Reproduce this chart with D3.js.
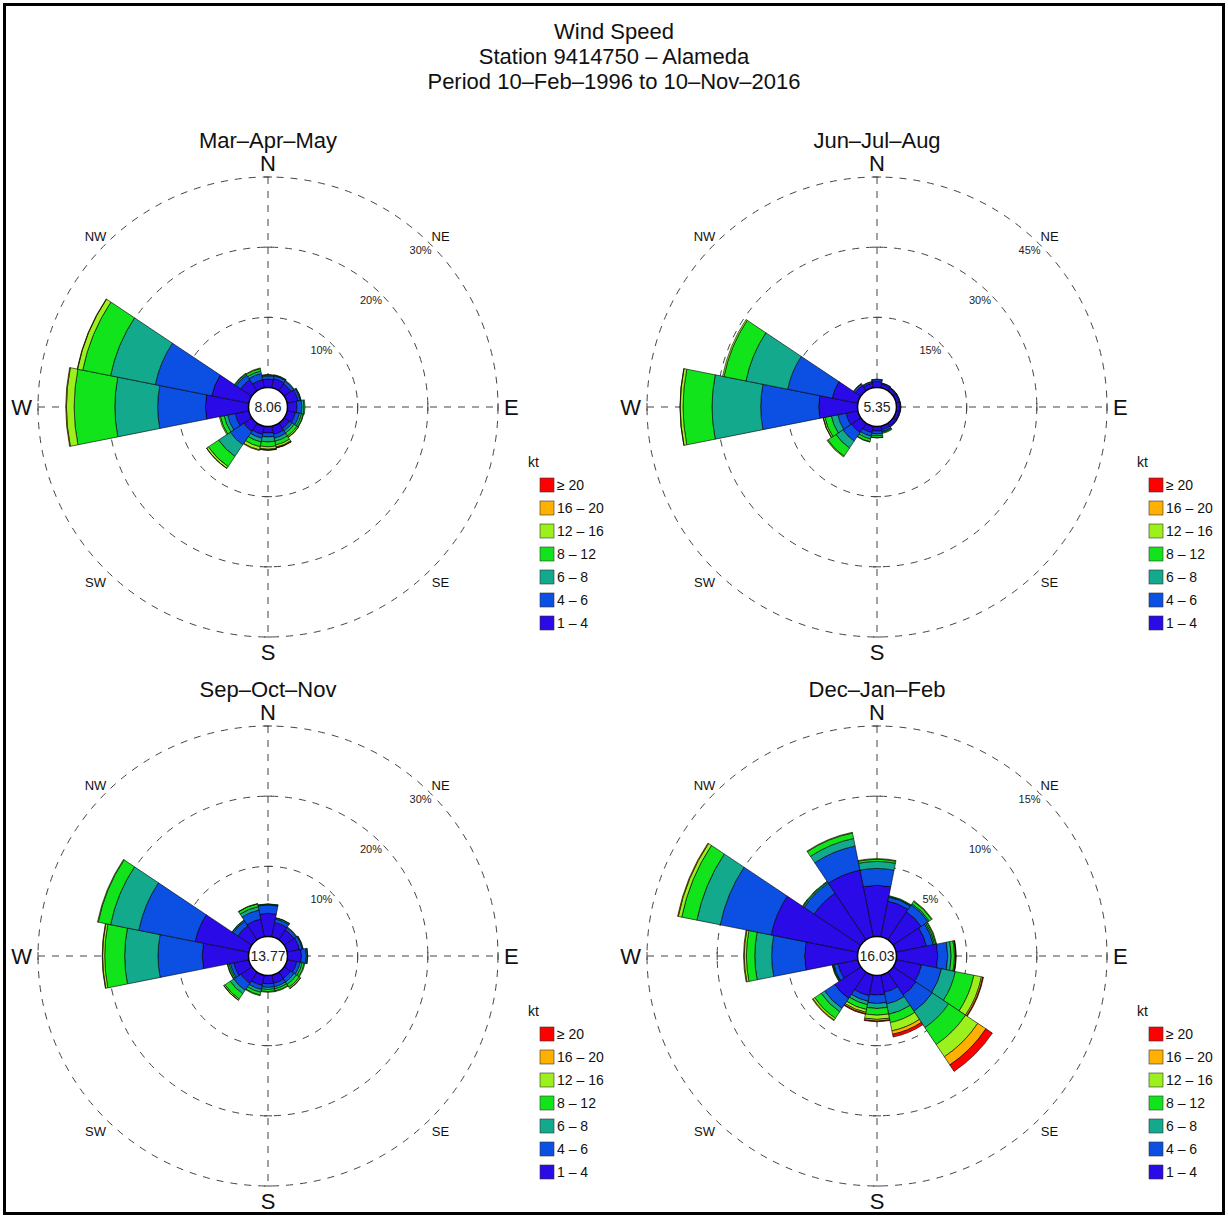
<!DOCTYPE html>
<html>
<head>
<meta charset="utf-8">
<script src="https://cdn.jsdelivr.net/npm/d3@7"></script>
<style>
  body { margin: 0; background: #fff; }
  svg { display: block; font-family: "Liberation Sans", Arial, Helvetica, sans-serif; }
</style>
</head>
<body>
<svg></svg>
<script>
const titleLines = ["Wind Speed", "Station 9414750 – Alameda", "Period 10–Feb–1996 to 10–Nov–2016"];
const directions = ["N", "NNE", "NE", "ENE", "E", "ESE", "SE", "SSE", "S", "SSW", "SW", "WSW", "W", "WNW", "NW", "NNW"];
const speedBins = ["1 – 4", "4 – 6", "6 – 8", "8 – 12", "12 – 16", "16 – 20", "≥ 20"];
const seasons = ["Mar–Apr–May", "Jun–Jul–Aug", "Sep–Oct–Nov", "Dec–Jan–Feb"];
const calms = [8.06, 5.35, 13.77, 16.03];
const ringTicks = [[10, 20, 30], [15, 30, 45], [10, 20, 30], [5, 10, 15]];
const diagLabels = ["NE", "SE", "SW", "NW"];

// rows = directions (N clockwise), columns = speed bins (1-4 ... >=20)
const freqMAM = [
  [1.2, 0.45, 0.15, 0.05, 0, 0, 0],
  [1.35, 0.4, 0.1, 0.05, 0, 0, 0],
  [1.2, 0.45, 0.1, 0, 0, 0, 0],
  [1.6, 0.3, 0.1, 0.05, 0, 0, 0],
  [1.35, 0.7, 0.3, 0.15, 0, 0, 0],
  [1.2, 0.6, 0.3, 0.25, 0.05, 0, 0],
  [0.9, 0.45, 0.35, 0.5, 0.2, 0.05, 0],
  [1.2, 0.55, 0.45, 0.55, 0.3, 0.1, 0.05],
  [0.95, 0.55, 0.7, 0.7, 0.35, 0.1, 0.05],
  [1.2, 0.55, 0.55, 0.7, 0.45, 0.1, 0],
  [1.4, 2.3, 2.0, 1.75, 0.3, 0.02, 0],
  [2.0, 1.1, 0.5, 0.55, 0.15, 0, 0],
  [6.15, 6.8, 6.1, 5.8, 1.1, 0.1, 0],
  [5.4, 8.2, 6.5, 4.05, 0.75, 0.05, 0],
  [1.9, 0.8, 0.2, 0.1, 0, 0, 0],
  [1.2, 0.9, 0.35, 0.35, 0.1, 0, 0]
];
const freqJJA = [
  [1.3, 0.4, 0.1, 0, 0, 0, 0],
  [0.8, 0.2, 0.05, 0, 0, 0, 0],
  [0.7, 0.15, 0.05, 0, 0, 0, 0],
  [0.7, 0.15, 0.05, 0, 0, 0, 0],
  [0.75, 0.15, 0.05, 0, 0, 0, 0],
  [0.7, 0.15, 0.05, 0, 0, 0, 0],
  [0.7, 0.2, 0.05, 0, 0, 0, 0],
  [0.8, 0.4, 0.2, 0.2, 0, 0, 0],
  [1.0, 0.6, 0.4, 0.4, 0.05, 0, 0],
  [1.4, 0.8, 0.6, 0.6, 0.1, 0, 0],
  [2.4, 2.2, 1.8, 2.1, 0.2, 0, 0],
  [2.6, 1.8, 1.4, 1.4, 0.35, 0.05, 0],
  [8.3, 12.4, 10.4, 6.2, 0.6, 0.05, 0],
  [5.6, 9.7, 9.1, 4.8, 0.3, 0, 0],
  [1.4, 0.4, 0.1, 0, 0, 0, 0],
  [1.0, 0.3, 0.1, 0, 0, 0, 0]
];
const freqSON = [
  [3.3, 1.2, 0.1, 0.05, 0, 0, 0],
  [2.1, 0.5, 0.15, 0.05, 0, 0, 0],
  [1.7, 0.4, 0.1, 0, 0, 0, 0],
  [1.8, 0.4, 0.1, 0.05, 0, 0, 0],
  [2.0, 0.7, 0.15, 0.05, 0, 0, 0],
  [1.4, 0.5, 0.3, 0.3, 0.1, 0, 0],
  [1.1, 0.6, 0.4, 0.5, 0.2, 0.05, 0],
  [1.2, 0.5, 0.3, 0.3, 0.1, 0, 0],
  [1.2, 0.5, 0.3, 0.3, 0.1, 0, 0],
  [1.5, 0.6, 0.4, 0.4, 0.1, 0, 0],
  [1.9, 1.2, 0.6, 0.9, 0.2, 0.02, 0],
  [2.2, 0.5, 0.2, 0.2, 0.05, 0, 0],
  [6.6, 6.3, 4.75, 2.85, 0.3, 0.05, 0],
  [7.8, 8.2, 4.1, 1.8, 0.1, 0, 0],
  [2.4, 0.8, 0.15, 0.05, 0, 0, 0],
  [2.6, 1.3, 0.5, 0.4, 0.05, 0, 0]
];
const freqDJF = [
  [3.65, 1.2, 0.5, 0.15, 0.05, 0, 0],
  [2.6, 0.3, 0.05, 0.05, 0, 0, 0],
  [2.4, 0.6, 0.1, 0.2, 0.05, 0, 0],
  [2.2, 0.5, 0.1, 0.1, 0.05, 0, 0],
  [2.94, 0.71, 0.25, 0.23, 0.07, 0.03, 0.02],
  [1.85, 1.45, 1.0, 1.35, 0.55, 0.1, 0.05],
  [1.95, 1.4, 1.4, 1.45, 1.05, 0.7, 0.55],
  [1.25, 0.85, 0.75, 0.6, 0.6, 0.25, 0.2],
  [1.4, 0.6, 0.35, 0.48, 0.3, 0.12, 0.05],
  [1.5, 0.4, 0.25, 0.35, 0.2, 0.1, 0.05],
  [2.25, 0.85, 0.3, 0.55, 0.15, 0.05, 0],
  [1.45, 0.3, 0.05, 0.05, 0.03, 0, 0],
  [3.77, 2.35, 1.2, 0.6, 0.15, 0.05, 0],
  [6.3, 3.7, 1.7, 1.1, 0.25, 0.05, 0],
  [4.0, 0.85, 0.1, 0.05, 0, 0, 0],
  [4.85, 1.75, 0.55, 0.4, 0.05, 0, 0]
];
const seasonFreqs = [freqMAM, freqJJA, freqSON, freqDJF];

// ---- styling / layout ----
const binColors = ["#2a0ae6", "#0b50e2", "#13a98c", "#12e41c", "#9cf01c", "#ffb000", "#ff0000"];
const width = 1228, height = 1218;
const centers = [[268, 407], [877, 407], [268, 956], [877, 956]];
const rCalm = 19.5, rOuter = 230;

const svg = d3.select("svg").attr("width", width).attr("height", height);

svg.append("rect")
  .attr("x", 4.5).attr("y", 4.5)
  .attr("width", width - 9).attr("height", height - 9)
  .attr("fill", "#fff").attr("stroke", "#000").attr("stroke-width", 3);

svg.append("g").selectAll("text")
  .data(titleLines)
  .join("text")
  .attr("x", width / 2)
  .attr("y", (d, i) => 39 + i * 25)
  .attr("text-anchor", "middle")
  .attr("font-size", 22)
  .attr("fill", "#111")
  .text(d => d);

seasons.forEach((s, i) => drawRose(i));

function drawRose(i) {
  const [cx, cy] = centers[i];
  const freq = seasonFreqs[i];
  const ticks = ringTicks[i];
  const g = svg.append("g").attr("transform", `translate(${cx},${cy})`);

  const r = d3.scaleLinear().domain([0, d3.max(ticks)]).range([rCalm, rOuter]);
  const ang = d3.scaleLinear().domain([0, directions.length]).range([0, 2 * Math.PI]);
  const half = Math.PI / directions.length;

  // subplot title
  g.append("text")
    .attr("x", 0).attr("y", -259)
    .attr("text-anchor", "middle")
    .attr("font-size", 22).attr("fill", "#111")
    .text(seasons[i]);

  // dashed rings
  g.selectAll("circle.ring")
    .data(ticks)
    .join("circle")
    .attr("class", "ring")
    .attr("r", d => r(d))
    .attr("fill", "none")
    .attr("stroke", "#444")
    .attr("stroke-width", 1)
    .attr("stroke-dasharray", "7,7");

  // dashed axes
  const axes = g.append("g").attr("stroke", "#444").attr("stroke-width", 1);
  axes.append("line").attr("x1", -rOuter).attr("x2", rOuter).attr("y1", 0).attr("y2", 0)
    .attr("stroke-dasharray", "7,7");
  axes.append("line").attr("y1", -rOuter).attr("y2", rOuter).attr("x1", 0).attr("x2", 0)
    .attr("stroke-dasharray", "7,7");
  // small ticks where rings meet the axes
  ticks.forEach(t => {
    const rr = r(t);
    [[rr, 0, "v"], [-rr, 0, "v"], [0, rr, "h"], [0, -rr, "h"]].forEach(([x, y, o]) => {
      axes.append("line")
        .attr("x1", o === "v" ? x : x - 4).attr("x2", o === "v" ? x : x + 4)
        .attr("y1", o === "v" ? y - 4 : y).attr("y2", o === "v" ? y + 4 : y);
    });
  });

  // percent labels along NE
  g.selectAll("text.pct")
    .data(ticks)
    .join("text")
    .attr("class", "pct")
    .attr("x", d => r(d) * Math.SQRT1_2 - 10)
    .attr("y", d => -r(d) * Math.SQRT1_2 + 10)
    .attr("text-anchor", "middle")
    .attr("font-size", 11)
    .attr("fill", "#222")
    .text(d => d + "%");

  // cardinal labels
  const card = g.append("g").attr("font-size", 22).attr("fill", "#111");
  card.append("text").attr("x", 0).attr("y", -236).attr("text-anchor", "middle").text("N");
  card.append("text").attr("x", 0).attr("y", 253).attr("text-anchor", "middle").text("S");
  card.append("text").attr("x", 236).attr("y", 8).attr("text-anchor", "start").text("E");
  card.append("text").attr("x", -236).attr("y", 8).attr("text-anchor", "end").text("W");

  // diagonal labels
  const diagAngles = [45, 135, 225, 315];
  g.selectAll("text.diag")
    .data(diagLabels)
    .join("text")
    .attr("class", "diag")
    .attr("x", (d, k) => 244 * Math.sin(diagAngles[k] * Math.PI / 180))
    .attr("y", (d, k) => -244 * Math.cos(diagAngles[k] * Math.PI / 180) + 7)
    .attr("text-anchor", "middle")
    .attr("font-size", 13)
    .attr("fill", "#111")
    .text(d => d);

  // stacked sectors
  const arc = d3.arc();
  const segs = [];
  freq.forEach((bins, di) => {
    let cum = 0;
    bins.forEach((v, bi) => {
      if (v <= 0) return;
      segs.push({ di, bi, lo: cum, hi: cum + v });
      cum += v;
    });
  });
  g.append("g").selectAll("path")
    .data(segs)
    .join("path")
    .attr("d", d => arc({
      innerRadius: r(d.lo),
      outerRadius: r(d.hi),
      startAngle: ang(d.di) - half,
      endAngle: ang(d.di) + half
    }))
    .attr("fill", d => binColors[d.bi])
    .attr("stroke", "#000")
    .attr("stroke-width", 0.6)
    .attr("stroke-linejoin", "miter");

  // calm circle
  g.append("circle")
    .attr("r", rCalm)
    .attr("fill", "#fff")
    .attr("stroke", "#000")
    .attr("stroke-width", 1.5);
  g.append("text")
    .attr("y", 5)
    .attr("text-anchor", "middle")
    .attr("font-size", 14)
    .attr("fill", "#222")
    .text(calms[i].toFixed(2));

  // legend
  const leg = g.append("g").attr("transform", "translate(272,78)");
  leg.append("text").attr("x", -12).attr("y", -18).attr("font-size", 14).attr("fill", "#111").text("kt");
  const order = d3.range(speedBins.length).reverse();
  const item = leg.selectAll("g.item")
    .data(order)
    .join("g")
    .attr("class", "item")
    .attr("transform", (d, k) => `translate(0,${k * 23})`);
  item.append("rect")
    .attr("x", 0).attr("y", -7)
    .attr("width", 14).attr("height", 14)
    .attr("fill", d => binColors[d])
    .attr("stroke", "#333").attr("stroke-width", 0.6);
  item.append("text")
    .attr("x", 17).attr("y", 5)
    .attr("font-size", 14)
    .attr("fill", "#111")
    .text(d => speedBins[d]);
}
</script>
</body>
</html>
